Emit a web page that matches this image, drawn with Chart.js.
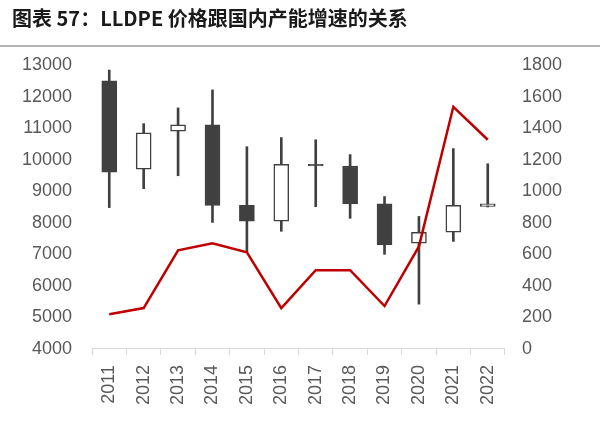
<!DOCTYPE html>
<html>
<head>
<meta charset="utf-8">
<script src="https://cdn.jsdelivr.net/npm/chart.js@4"></script>
<style>
  body { margin: 0; background: #fff; }
  #wrap { position: relative; width: 600px; height: 424px; }
  #title {
    position: absolute; left: 12px; top: 3px;
    font-family: "Noto Sans CJK SC", sans-serif; font-weight: bold;
    font-size: 20px; color: #1a1a1a; white-space: nowrap;
  }
  #rule { position: absolute; left: 0; top: 45px; width: 600px; height: 2px; background: #b4b4b4; }
  canvas { position: absolute; left: 0; top: 0; }
</style>
</head>
<body>
<div id="wrap">
  <canvas id="c" width="600" height="424"></canvas>
  <div id="title">图表 57：LLDPE 价格跟国内产能增速的关系</div>
  <div id="rule"></div>
</div>
<script>
// price candles (left axis)
const years = ['2011', '2012', '2013', '2014', '2015', '2016', '2017', '2018', '2019', '2020', '2021', '2022'];
const openPrice  = [12500, 9700, 10900, 11100, 8550, 8050, 9850, 9800, 8600, 7350, 7700, 8520];
const closePrice = [9600, 10850, 11100, 8550, 8050, 9850, 9800, 8600, 7300, 7700, 8550, 8600];
const highPrice  = [12840, 11140, 11640, 12210, 10410, 10700, 10630, 10160, 8830, 8200, 10350, 9870];
const lowPrice   = [8480, 9080, 9490, 8010, 7060, 7730, 8510, 8140, 7000, 5420, 7410, 8500];
// capacity growth line (right axis)
const capacity = [220, 259, 625, 670, 613, 259, 499, 499, 272, 650, 1535, 1326];

const dark = '#404040';
const up = closePrice.map((c, i) => c >= openPrice[i]);
const tickFont = { family: 'Liberation Sans', size: 18 };
const plain = v => String(v);

new Chart(document.getElementById('c').getContext('2d'), {
  data: {
    labels: years,
    datasets: [
      {
        type: 'line',
        data: capacity,
        yAxisID: 'y1',
        borderColor: '#c00000',
        borderWidth: 2.5,
        pointRadius: 0,
        tension: 0,
        order: 0
      },
      {
        type: 'bar',
        data: years.map((y, i) => [Math.min(openPrice[i], closePrice[i]), Math.max(openPrice[i], closePrice[i])]),
        yAxisID: 'y',
        backgroundColor: up.map(u => u ? '#ffffff' : dark),
        borderColor: dark,
        borderWidth: 1.5,
        borderSkipped: false,
        barThickness: 15,
        grouped: false,
        order: 1
      },
      {
        type: 'bar',
        data: years.map((y, i) => [lowPrice[i], highPrice[i]]),
        yAxisID: 'y',
        backgroundColor: dark,
        barThickness: 2,
        grouped: false,
        order: 2
      }
    ]
  },
  options: {
    responsive: false,
    animation: false,
    layout: { padding: { left: 2, right: 21, top: 65, bottom: 9 } },
    plugins: { legend: { display: false }, tooltip: { enabled: false } },
    scales: {
      x: {
        grid: { drawOnChartArea: false, color: '#d9d9d9', tickLength: 6 },
        border: { color: '#d9d9d9' },
        ticks: { minRotation: 90, maxRotation: 90, padding: 10, color: '#595959', font: tickFont }
      },
      y: {
        position: 'left',
        min: 4000, max: 13000,
        grid: { display: false, drawTicks: false },
        border: { display: false },
        ticks: { stepSize: 1000, padding: 20, color: '#595959', font: tickFont, callback: plain }
      },
      y1: {
        position: 'right',
        min: 0, max: 1800,
        grid: { display: false, drawTicks: false },
        border: { display: false },
        ticks: { stepSize: 200, padding: 17, color: '#595959', font: tickFont, callback: plain }
      }
    }
  }
});
</script>
</body>
</html>
